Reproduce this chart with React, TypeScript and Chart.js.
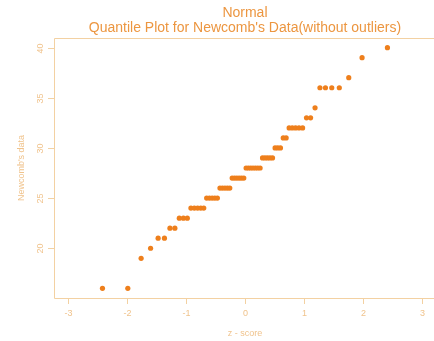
import React, { useEffect, useRef } from "react";
import { Chart, registerables } from "chart.js";

Chart.register(...registerables);

// Newcomb's data without outliers (sorted)
const newcombValues: number[] = [
  16, 16, 19, 20, 21, 21, 22, 22, 23, 23, 23, 24, 24, 24, 24, 24,
  25, 25, 25, 25, 25, 26, 26, 26, 26, 26, 27, 27, 27, 27, 27, 27,
  28, 28, 28, 28, 28, 28, 28, 29, 29, 29, 29, 29, 30, 30, 30, 31,
  31, 32, 32, 32, 32, 32, 33, 33, 34, 36, 36, 36, 36, 37, 39, 40,
];

// z-scores (normal quantiles) for the 64 sorted values
const zScores: number[] = [
  -2.4175, -1.9874, -1.7617, -1.601, -1.4733, -1.3658, -1.2725, -1.1894,
  -1.1138, -1.0443, -0.9782, -0.9168, -0.8584, -0.803, -0.7499, -0.6988,
  -0.6498, -0.6025, -0.5563, -0.5115, -0.4676, -0.4239, -0.3816, -0.3397,
  -0.2982, -0.2573, -0.2168, -0.1767, -0.137, -0.098, -0.0588, -0.0196,
  0.0196, 0.0588, 0.098, 0.137, 0.1767, 0.2168, 0.2573, 0.2982,
  0.3397, 0.3816, 0.4239, 0.4676, 0.5115, 0.5563, 0.6025, 0.6498,
  0.6988, 0.7499, 0.803, 0.8584, 0.9168, 0.9782, 1.0443, 1.1138,
  1.1894, 1.2725, 1.3658, 1.4733, 1.601, 1.7617, 1.9874, 2.4175,
];

const xTicks: number[] = [-3, -2, -1, 0, 1, 2, 3];
const yTicks: number[] = [20, 25, 30, 35, 40];
const titleLines: string[] = ["Normal", "Quantile Plot for Newcomb's Data(without outliers)"];
const xTitle = "z - score";
const yTitle = "Newcomb's data";

const FONT = "'Liberation Sans', Arial, sans-serif";
const AXIS_COLOR = "#f3d1a2";
const TICK_TEXT = "#f0c38c";
const TITLE_COLOR = "#ec9640";
const POINT_COLOR = "#ee7f1c";

const framePlugin = {
  id: "rframe",
  afterDraw(chart: any) {
    const ctx = chart.ctx as CanvasRenderingContext2D;
    const { left, right, top, bottom } = chart.chartArea;
    const xs = chart.scales.x;
    const ys = chart.scales.y;
    ctx.save();
    ctx.strokeStyle = AXIS_COLOR;
    ctx.lineWidth = 1;
    ctx.beginPath();
    ctx.moveTo(right + 10, top + 0.5);
    ctx.lineTo(left + 0.5, top + 0.5);
    ctx.lineTo(left + 0.5, bottom + 0.5);
    ctx.lineTo(right + 10, bottom + 0.5);
    ctx.stroke();

    // x ticks
    ctx.fillStyle = TICK_TEXT;
    ctx.font = `9px ${FONT}`;
    ctx.textAlign = "center";
    ctx.textBaseline = "middle";
    for (const t of xTicks) {
      const px = Math.round(xs.getPixelForValue(t)) + 0.5;
      ctx.beginPath();
      ctx.moveTo(px, bottom);
      ctx.lineTo(px, bottom + 6);
      ctx.stroke();
      ctx.fillText(String(t), px, bottom + 16);
    }
    // y ticks
    for (const t of yTicks) {
      const py = Math.round(ys.getPixelForValue(t)) + 0.5;
      ctx.beginPath();
      ctx.moveTo(left, py);
      ctx.lineTo(left - 6, py);
      ctx.stroke();
      ctx.save();
      ctx.translate(left - 13, py);
      ctx.rotate(-Math.PI / 2);
      ctx.fillText(String(t), 0, 0);
      ctx.restore();
    }
    // axis titles
    const cx = (xs.getPixelForValue(xs.min) + xs.getPixelForValue(-xs.min)) / 2;
    ctx.fillText(xTitle, cx, bottom + 36);
    ctx.save();
    ctx.translate(22, (top + bottom) / 2);
    ctx.rotate(-Math.PI / 2);
    ctx.fillText(yTitle, 0, 0);
    ctx.restore();

    // title
    ctx.fillStyle = TITLE_COLOR;
    ctx.font = `14px ${FONT}`;
    ctx.fillText(titleLines[0], cx, 13);
    ctx.fillText(titleLines[1], cx, 28);
    ctx.restore();
  },
};

export default function App() {
  const ref = useRef<HTMLCanvasElement | null>(null);
  useEffect(() => {
    document.body.style.margin = "0";
    const canvas = ref.current;
    if (!canvas) return;
    const chart = new Chart(canvas, {
      type: "scatter",
      data: {
        datasets: [
          {
            data: zScores.map((z, i) => ({ x: z, y: newcombValues[i] })),
            backgroundColor: POINT_COLOR,
            borderColor: POINT_COLOR,
            borderWidth: 0,
            pointRadius: 2.6,
          },
        ],
      },
      options: {
        animation: false,
        responsive: false,
        maintainAspectRatio: false,
        layout: { padding: { left: 54, top: 38, right: 0, bottom: 43 } },
        plugins: { legend: { display: false }, tooltip: { enabled: false }, title: { display: false } },
        scales: {
          x: { type: "linear", min: -3.24, max: 3.14, display: false },
          y: { type: "linear", min: 15.04, max: 40.96, display: false },
        },
      },
      plugins: [framePlugin],
    });
    return () => chart.destroy();
  }, []);
  return (
    <div style={{ position: "relative", width: 434, height: 341, background: "#fff" }}>
      <canvas ref={ref} width={434} height={341} style={{ width: 434, height: 341, display: "block" }} />
    </div>
  );
}
